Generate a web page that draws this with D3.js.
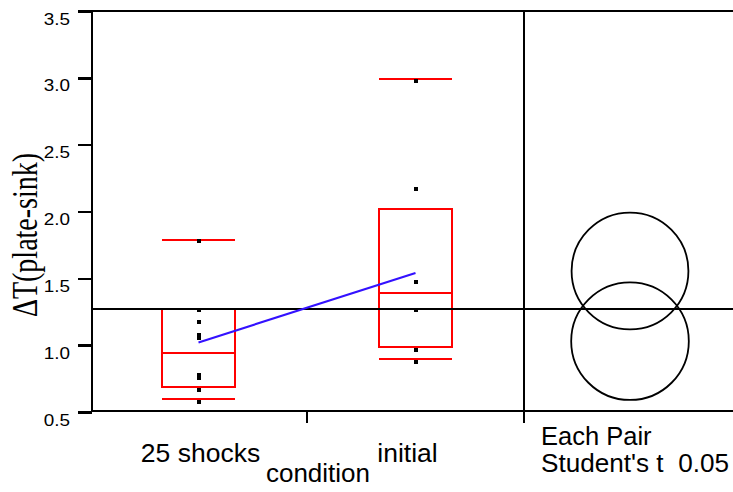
<!DOCTYPE html>
<html>
<head>
<meta charset="utf-8">
<script src="https://cdn.jsdelivr.net/npm/d3@7"></script>
<style>
  body { margin: 0; background: #fff; }
  svg { display: block; }
  text { font-family: "Liberation Sans", Arial, sans-serif; fill: #000; }
  .ylabel { font-family: "Liberation Serif", "Times New Roman", serif; }
</style>
</head>
<body>
<script>
// values
var categories = ["25 shocks", "initial"];
var shocksValues = [1.78, 1.27, 1.18, 1.08, 1.06, 0.78, 0.76, 0.67, 0.58];
var initialValues = [2.98, 2.17, 1.48, 1.27, 0.97, 0.88];
var whiskerHigh = [1.79, 2.99];
var q3 = [1.27, 2.02];
var medians = [0.94, 1.39];
var q1 = [0.69, 0.99];
var whiskerLow = [0.60, 0.90];
var means = [1.02, 1.54];
var grandMean = 1.27;
var circleCenters = [1.555, 1.03];
var circleRadii = [0.437, 0.44];
var yTicks = [0.5, 1.0, 1.5, 2.0, 2.5, 3.0, 3.5];

var width = 733, height = 492;
var plotLeft = 92, plotTop = 11, plotBottom = 411, divider = 524;

var svg = d3.select("body").append("svg")
    .attr("width", width)
    .attr("height", height);

var y = d3.scaleLinear()
    .domain([0.5, 3.5])
    .range([412, plotTop]);

var x = d3.scaleBand()
    .domain(categories)
    .range([90, divider]);

var boxW = x.bandwidth() / 3;
function cx(i) { return x(categories[i]) + x.bandwidth() / 2; }

// y axis
var yAxis = svg.append("g")
    .attr("transform", "translate(" + plotLeft + ",0)")
    .call(d3.axisLeft(y).tickValues(yTicks).tickSize(14).tickPadding(0).tickFormat(d3.format(".1f")));
yAxis.select(".domain").remove();
yAxis.selectAll(".tick line").attr("stroke", "#000").attr("stroke-width", 2.5).attr("shape-rendering", "crispEdges");
yAxis.selectAll(".tick text")
    .attr("x", null).attr("dy", null)
    .attr("text-anchor", "end")
    .attr("transform", "translate(-22,13) scale(1.18,1)")
    .style("font-size", "16px");

// frame lines
var frame = svg.append("g").attr("stroke", "#000").attr("stroke-width", 2.5)
    .attr("fill", "none").attr("shape-rendering", "crispEdges");
frame.append("line").attr("x1", plotLeft).attr("x2", plotLeft).attr("y1", plotTop).attr("y2", plotBottom + 1);
frame.append("line").attr("x1", plotLeft).attr("x2", width).attr("y1", plotTop).attr("y2", plotTop);
frame.append("line").attr("x1", plotLeft).attr("x2", width).attr("y1", plotBottom).attr("y2", plotBottom)
    .attr("stroke-width", 2);
frame.append("line").attr("x1", divider).attr("x2", divider).attr("y1", plotTop).attr("y2", plotBottom + 12);
frame.append("line").attr("x1", x("initial")).attr("x2", x("initial")).attr("y1", plotBottom).attr("y2", plotBottom + 12);

// boxes
var red = "#ff0000";
var boxes = svg.append("g").attr("stroke", red).attr("stroke-width", 2)
    .attr("fill", "none").attr("shape-rendering", "crispEdges");
categories.forEach(function(c, i) {
  var c0 = cx(i);
  boxes.append("rect")
      .attr("x", c0 - boxW / 2)
      .attr("y", y(q3[i]))
      .attr("width", boxW)
      .attr("height", y(q1[i]) - y(q3[i]));
  [medians[i], whiskerHigh[i], whiskerLow[i]].forEach(function(v) {
    boxes.append("line")
        .attr("x1", c0 - boxW / 2).attr("x2", c0 + boxW / 2)
        .attr("y1", y(v)).attr("y2", y(v));
  });
});

// grand mean line
svg.append("line")
    .attr("x1", plotLeft).attr("x2", width)
    .attr("y1", y(grandMean)).attr("y2", y(grandMean))
    .attr("stroke", "#000").attr("stroke-width", 2)
    .attr("shape-rendering", "crispEdges");

// mean connector
svg.append("line")
    .attr("x1", cx(0)).attr("x2", cx(1))
    .attr("y1", y(means[0])).attr("y2", y(means[1]))
    .attr("stroke", "#3311ff").attr("stroke-width", 2.2);

// points
var groups = [shocksValues, initialValues];
groups.forEach(function(vals, i) {
  svg.append("g").selectAll("rect")
      .data(vals)
      .enter().append("rect")
      .attr("x", Math.round(cx(i) - 1.5))
      .attr("y", function(d) { return Math.round(y(d) - 1.5); })
      .attr("width", 3.5)
      .attr("height", 3.5)
      .attr("fill", "#000")
      .attr("shape-rendering", "crispEdges");
});

// comparison circles
var circX = (divider + width) / 2 + 1.5;
svg.append("g").selectAll("circle")
    .data(circleCenters)
    .enter().append("circle")
    .attr("cx", circX)
    .attr("cy", function(d) { return y(d); })
    .attr("r", function(d, i) { return y(0.5) - y(0.5 + circleRadii[i]); })
    .attr("fill", "none")
    .attr("stroke", "#000")
    .attr("stroke-width", 1.8);

// category labels
svg.append("g").selectAll("text")
    .data(categories)
    .enter().append("text")
    .attr("x", function(d, i) { return cx(i) + (i === 0 ? 2 : -8); })
    .attr("y", 462)
    .attr("text-anchor", "middle")
    .style("font-size", "26.5px")
    .text(function(d) { return d; });

svg.append("text")
    .attr("x", x("initial") + 11)
    .attr("y", 482)
    .attr("text-anchor", "middle")
    .style("font-size", "26px")
    .text("condition");

svg.append("text")
    .attr("x", 541)
    .attr("y", 445)
    .style("font-size", "25.5px")
    .text("Each Pair");

svg.append("text")
    .attr("x", 541)
    .attr("y", 472)
    .style("font-size", "25.5px")
    .style("white-space", "pre")
    .attr("textLength", 188)
    .attr("lengthAdjust", "spacingAndGlyphs")
    .text("Student's t  0.05");

svg.append("text")
    .attr("class", "ylabel")
    .attr("transform", "translate(37,235) scale(1.3,1) rotate(-90)")
    .attr("text-anchor", "middle")
    .style("font-size", "28px")
    .text("\u0394T(plate-sink)");
</script>
</body>
</html>
